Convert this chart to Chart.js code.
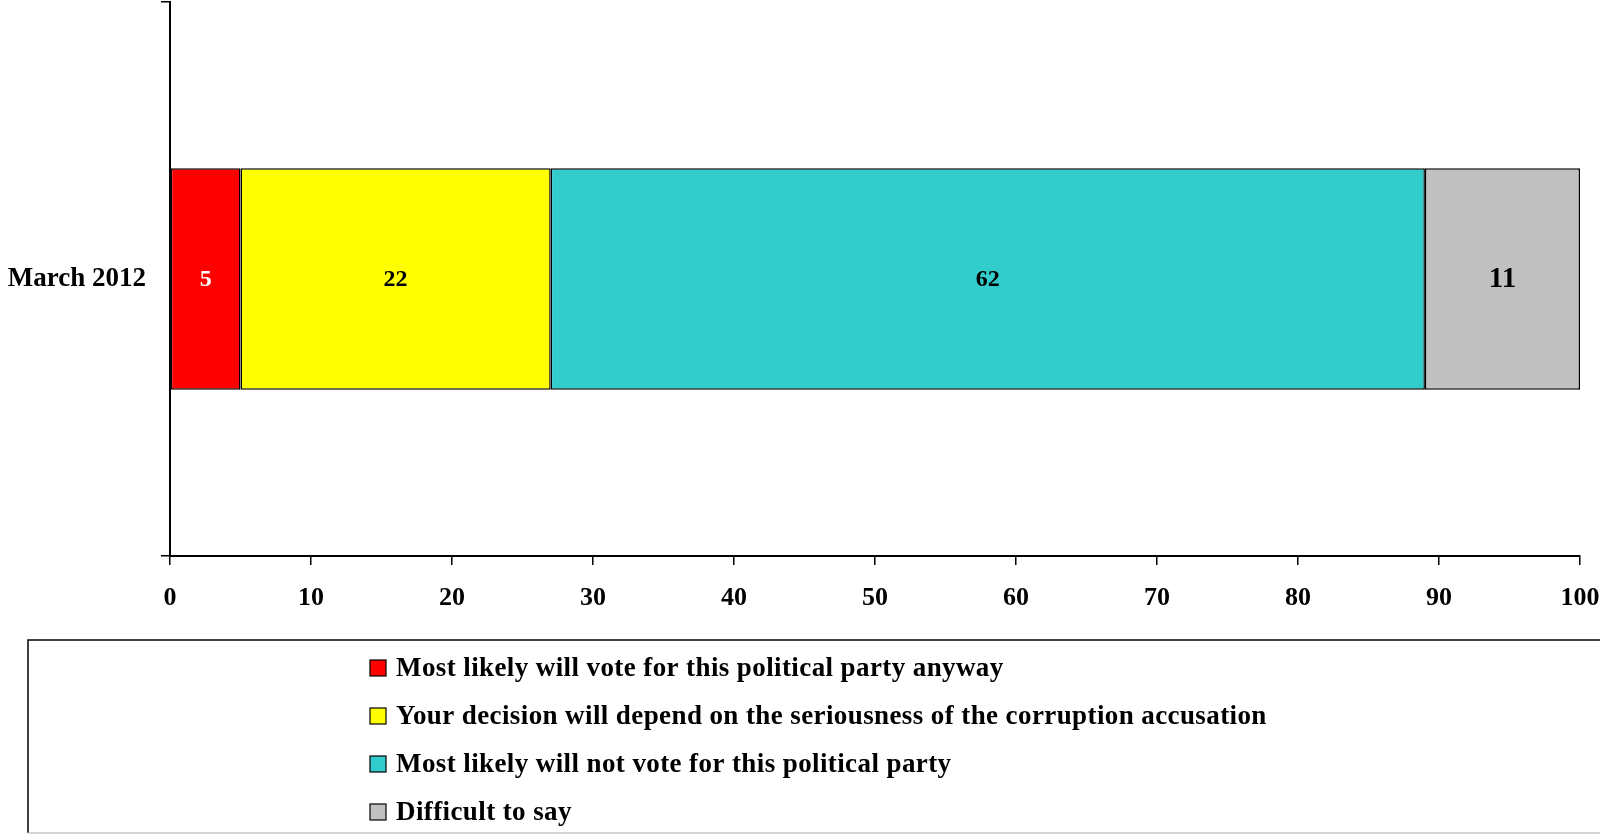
<!DOCTYPE html>
<html lang="en">
<head>
    <meta charset="UTF-8">
    <title>Vote after corruption accusation</title>
    <script src="https://cdn.jsdelivr.net/npm/chart.js"></script>
    <style>
        body {
            margin: 0;
            overflow: hidden;
            background-color: #ffffff;
        }
        #wrap {
            width: 1600px;
            height: 837px;
        }
    </style>
</head>
<body>
    <div id="wrap"><canvas id="voteChart"></canvas></div>
    <script>
        // data
        const categories = ['March 2012'];
        const seriesLabels = [
            'Most likely will vote for this political party anyway',
            'Your decision will depend on the seriousness of the corruption accusation',
            'Most likely will not vote for this political party',
            'Difficult to say'
        ];
        const voteAnyway = [5];
        const dependsOnAccusation = [22];
        const willNotVote = [62];
        const difficultToSay = [11];
        const xTicks = [0, 10, 20, 30, 40, 50, 60, 70, 80, 90, 100];

        const colors = ['#FF0000', '#FFFF00', '#33CCCC', '#C0C0C0'];
        const valueColors = ['#FFFFFF', '#000000', '#000000', '#000000'];
        const valueSizes = [24, 24, 24, 29];
        const serif = '"Liberation Serif", "Times New Roman", serif';

        const seriesValues = [voteAnyway, dependsOnAccusation, willNotVote, difficultToSay];

        // scales should not push the plot area in for their label overhang
        function noScalePadding(scale) {
            scale.paddingTop = 0;
            scale.paddingBottom = 0;
            scale.paddingLeft = 0;
            scale.paddingRight = 0;
        }

        // value labels in the middle of each segment
        const valueLabels = {
            id: 'valueLabels',
            afterDatasetsDraw(chart) {
                const ctx = chart.ctx;
                ctx.save();
                ctx.textAlign = 'center';
                ctx.textBaseline = 'middle';
                chart.data.datasets.forEach((ds, i) => {
                    const meta = chart.getDatasetMeta(i);
                    meta.data.forEach((bar, j) => {
                        ctx.fillStyle = valueColors[i];
                        ctx.font = 'bold ' + valueSizes[i] + 'px ' + serif;
                        ctx.fillText(ds.data[j], (bar.x + bar.base) / 2, bar.y + 1);
                    });
                });
                ctx.restore();
            }
        };

        // boxed legend, one entry per row
        const boxLegend = {
            id: 'boxLegend',
            afterDraw(chart) {
                const ctx = chart.ctx;
                ctx.save();
                ctx.strokeStyle = '#000000';
                ctx.lineWidth = 1.5;
                ctx.beginPath();
                ctx.moveTo(28, 833);
                ctx.lineTo(28, 640);
                ctx.lineTo(1600, 640);
                ctx.stroke();
                ctx.strokeStyle = '#c8c8c8';
                ctx.beginPath();
                ctx.moveTo(28, 833);
                ctx.lineTo(1600, 833);
                ctx.stroke();

                ctx.font = 'bold 27px ' + serif;
                ctx.letterSpacing = '0.4px';
                ctx.textBaseline = 'middle';
                ctx.textAlign = 'left';
                chart.data.datasets.forEach((ds, i) => {
                    const y = 668 + i * 48;
                    ctx.fillStyle = ds.backgroundColor;
                    ctx.fillRect(370, y - 8, 16, 16);
                    ctx.strokeStyle = '#000000';
                    ctx.lineWidth = 1.2;
                    ctx.strokeRect(370, y - 8, 16, 16);
                    ctx.fillStyle = '#000000';
                    ctx.fillText(ds.label, 396, y + 1);
                });
                ctx.restore();
            }
        };

        const ctx = document.getElementById('voteChart').getContext('2d');
        const voteChart = new Chart(ctx, {
            type: 'bar',
            data: {
                labels: categories,
                datasets: seriesLabels.map((label, i) => ({
                    label: label,
                    data: seriesValues[i],
                    backgroundColor: colors[i],
                    borderColor: '#000000',
                    borderWidth: 1.5,
                    borderSkipped: false,
                    barPercentage: 0.4,
                    categoryPercentage: 1.0
                }))
            },
            options: {
                indexAxis: 'y',
                responsive: true,
                maintainAspectRatio: false,
                animation: false,
                layout: {
                    autoPadding: false,
                    padding: { top: 2, right: 20, left: 0, bottom: 0 }
                },
                scales: {
                    x: {
                        stacked: true,
                        min: 0,
                        max: 100,
                        afterBuildTicks: (scale) => {
                            scale.ticks = xTicks.map(v => ({ value: v }));
                        },
                        afterFit: (scale) => {
                            scale.height = 281;
                            noScalePadding(scale);
                        },
                        grid: {
                            drawOnChartArea: false,
                            color: '#000000',
                            lineWidth: 1.5,
                            tickLength: 9
                        },
                        border: { color: '#000000', width: 2 },
                        ticks: {
                            color: '#000000',
                            padding: 18,
                            maxRotation: 0,
                            font: { family: serif, size: 26, weight: 'bold' }
                        }
                    },
                    y: {
                        stacked: true,
                        afterFit: (scale) => {
                            scale.width = 170;
                            noScalePadding(scale);
                        },
                        grid: {
                            drawOnChartArea: false,
                            color: '#000000',
                            lineWidth: 1.5,
                            tickLength: 9
                        },
                        border: { color: '#000000', width: 2 },
                        ticks: {
                            color: '#000000',
                            padding: 15,
                            font: { family: serif, size: 27, weight: 'bold' }
                        }
                    }
                },
                plugins: {
                    legend: { display: false },
                    tooltip: { enabled: false }
                }
            },
            plugins: [valueLabels, boxLegend]
        });
    </script>
</body>
</html>
